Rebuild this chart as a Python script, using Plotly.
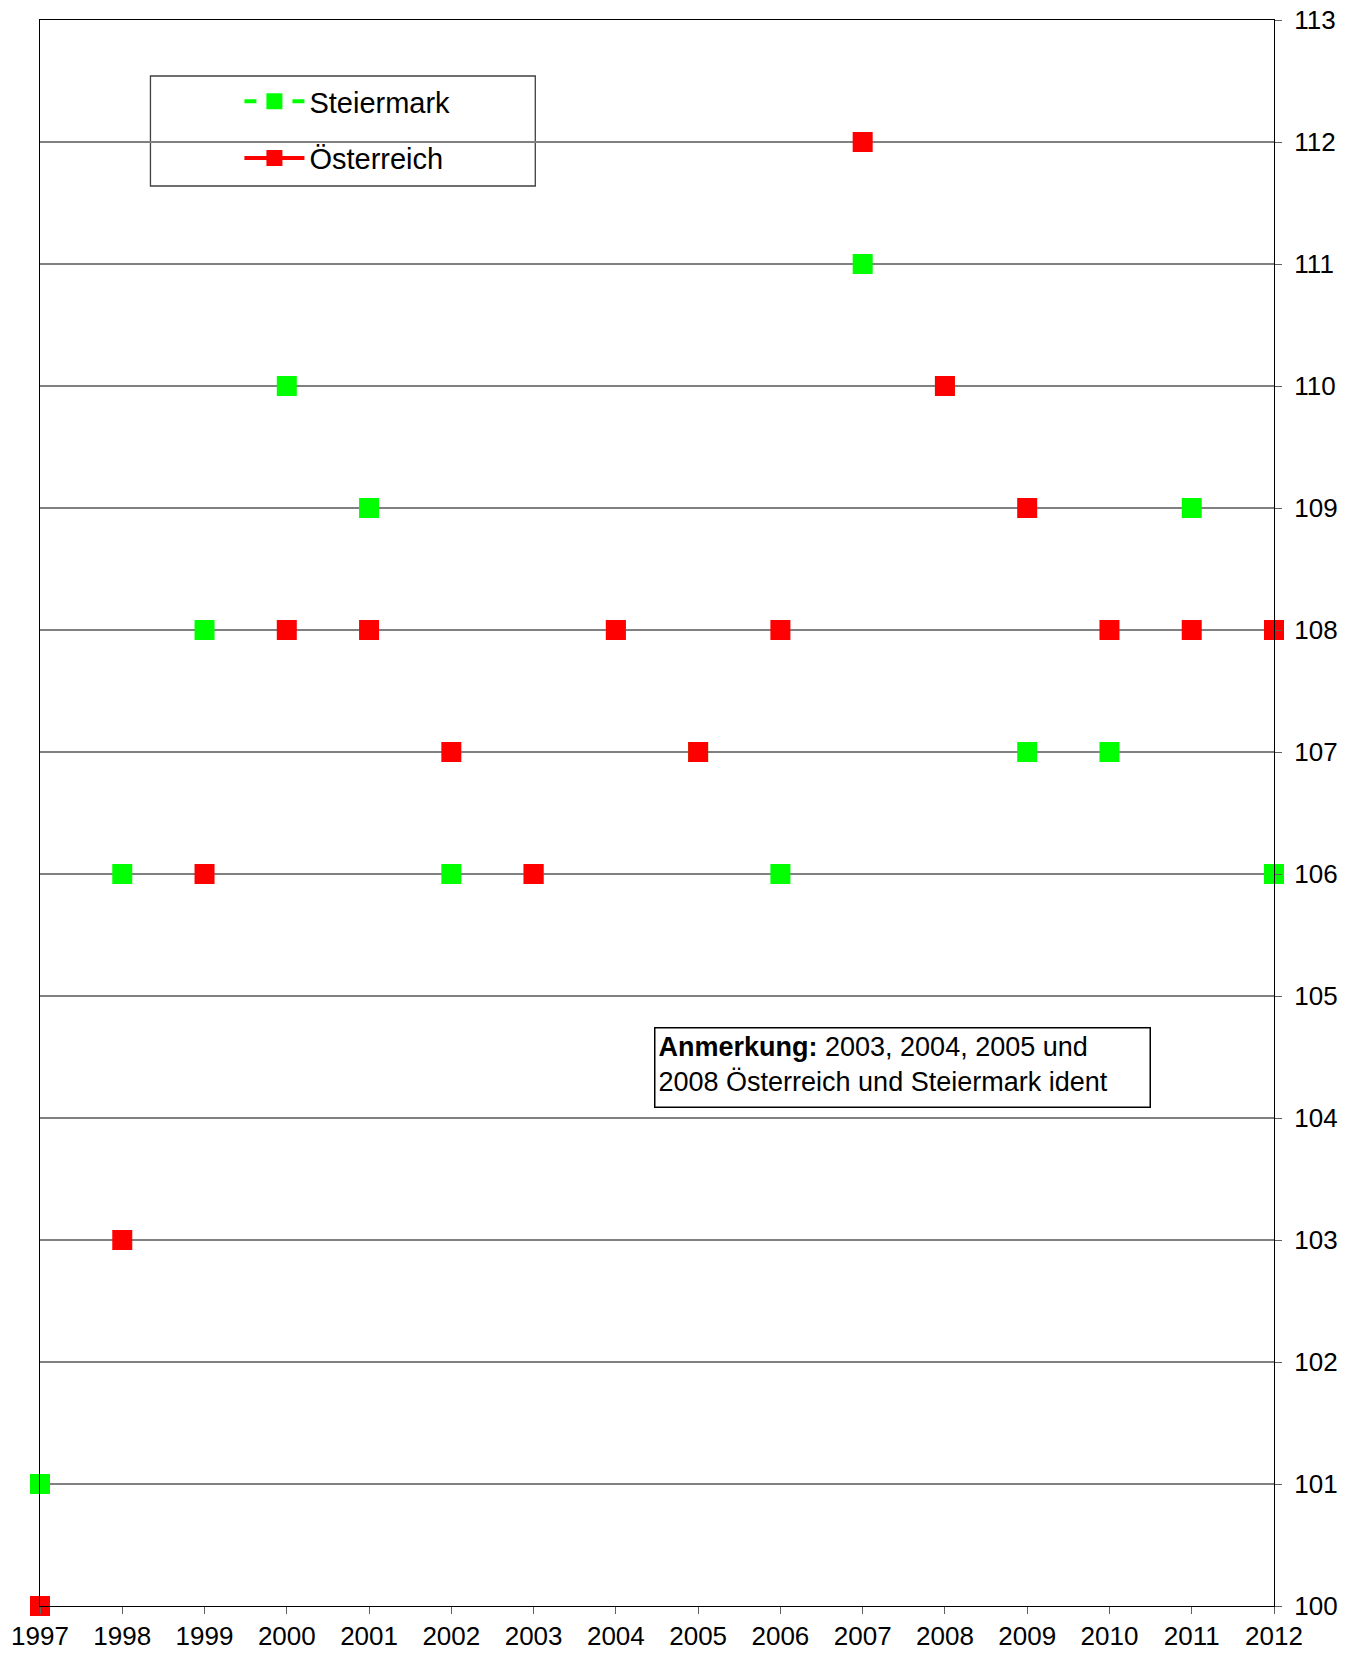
import plotly.graph_objects as go

years = list(range(1997, 2013))
steiermark = [101, 106, 108, 110, 109, 106, 106, 108, 107, 106, 111, 110, 107, 107, 109, 106]
oesterreich = [100, 103, 106, 108, 108, 107, 106, 108, 107, 108, 112, 110, 109, 108, 108, 108]
y_ticks = list(range(100, 114))

GREEN = "#00FF00"
RED = "#FF0000"
FONT = "Arial, Liberation Sans, sans-serif"

# body margin is removed by the post script, so page pixels == figure pixels
W, H = 1350, 1654
L, R, T, B = 39.5, 76, 20, 48
PW = W - L - R
PH = H - T - B

def px(x):  # page pixel -> paper
    return (x - L) / PW

def py(y):
    return 1 - (y - T) / PH

fig = go.Figure()
# data traces (markers only)
fig.add_trace(go.Scatter(x=years, y=steiermark, mode="markers", name="Steiermark",
                         marker=dict(symbol="square", size=20, color=GREEN, line=dict(width=0)),
                         cliponaxis=False, showlegend=False))
fig.add_trace(go.Scatter(x=years, y=oesterreich, mode="markers", name="Österreich",
                         marker=dict(symbol="square", size=20, color=RED, line=dict(width=0)),
                         cliponaxis=False, showlegend=False))
# legend entries
fig.add_trace(go.Scatter(x=[None], y=[None], mode="lines+markers", name="Steiermark",
                         legendgroup="a",
                         line=dict(color=GREEN, width=4, dash="dash"),
                         marker=dict(symbol="square", size=18, color=GREEN)))
fig.add_trace(go.Scatter(x=[None], y=[None], mode="lines+markers", name="Österreich",
                         legendgroup="b",
                         line=dict(color=RED, width=4),
                         marker=dict(symbol="square", size=18, color=RED)))

fig.update_layout(
    width=W, height=H,
    margin=dict(l=L, r=R, t=T, b=B, autoexpand=False),
    paper_bgcolor="white", plot_bgcolor="white",
    font=dict(family=FONT, size=26, color="black"),
    showlegend=True,
    legend=dict(x=px(239), y=py(76), xanchor="left", yanchor="top",
                bgcolor="rgba(0,0,0,0)", borderwidth=0,
                font=dict(size=29, family=FONT), itemwidth=60,
                traceorder="grouped", tracegroupgap=16),
)
# legend frame
fig.add_shape(type="rect", xref="paper", yref="paper",
              x0=px(150), x1=px(535), y0=py(186), y1=py(76),
              line=dict(color="#404040", width=1.3), fillcolor="white", layer="below")

fig.update_xaxes(range=[1997, 2012], tickmode="array", tickvals=years,
                 ticktext=[str(y) for y in years], automargin=False,
                 ticklabeloverflow="allow",
                 showgrid=False, showline=True, linecolor="black", linewidth=1.3,
                 mirror=True, ticks="outside", ticklen=7, tickcolor="#606060",
                 tickfont=dict(size=26, family=FONT), zeroline=False)
fig.update_yaxes(range=[100, 113], tickmode="array", tickvals=y_ticks,
                 ticktext=[str(v) for v in y_ticks], side="right", automargin=False,
                 ticklabeloverflow="allow", ticklabelstandoff=7,
                 showgrid=True, gridcolor="#808080", gridwidth=1.5,
                 showline=True, linecolor="black", linewidth=1.3, mirror=True,
                 ticks="outside", ticklen=7, tickcolor="#606060",
                 tickfont=dict(size=26, family=FONT), zeroline=False)

fig.add_annotation(xref="paper", yref="paper",
                   x=px(654), y=py(1027),
                   xanchor="left", yanchor="top",
                   text="<b>Anmerkung:</b> 2003, 2004, 2005 und<br>2008 Österreich und Steiermark ident",
                   showarrow=False, align="left", valign="top",
                   width=488, height=72,
                   bordercolor="black", borderwidth=1.5, borderpad=3,
                   bgcolor="white", font=dict(size=27, family=FONT, color="black"))

fig.write_html("out.html", config={"displayModeBar": False},
               post_script="document.body.style.margin='0';document.body.style.padding='0';document.body.style.overflow='hidden';")
